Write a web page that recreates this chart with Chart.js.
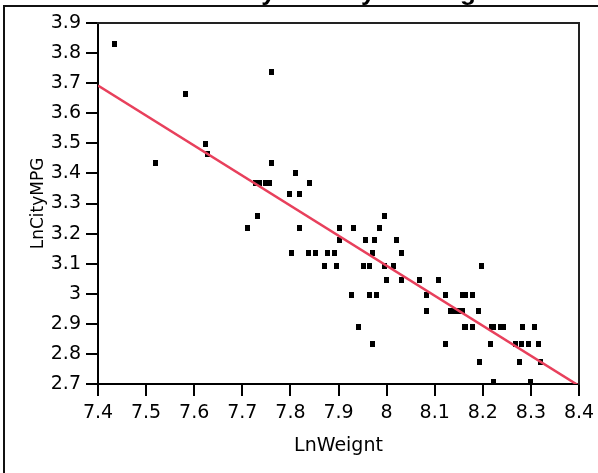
<!DOCTYPE html>
<html>
<head>
<meta charset="utf-8">
<script src="https://cdn.jsdelivr.net/npm/chart.js@4.4.1/dist/chart.umd.min.js"></script>
<style>
  html, body { margin: 0; padding: 0; background: #fff; overflow: hidden; }
  #wrap { position: relative; width: 598px; height: 473px; overflow: hidden; }
  #frame { position: absolute; left: 3px; top: 5px; width: 700px; height: 600px;
           border-left: 2px solid #111; border-top: 2px solid #111; }
  #chart { position: absolute; left: 0; top: 0; }
</style>
</head>
<body>
<div id="wrap">
  <div id="frame"></div>
  <canvas id="chart" width="598" height="473"></canvas>
</div>
<script>
// Title is cut off by the top edge in the reference, only descenders show
const chartTitle = 'Bivariate Fit of LnCityMPG By LnWeight';

// Scatter data
const lnWeight = [
    7.435, 7.761, 7.582, 7.623, 7.627, 7.519, 7.761, 7.811,
    7.728, 7.736, 7.749, 7.757, 7.840, 7.798, 7.819, 7.732, 7.995,
    7.711, 7.819, 7.903, 7.932, 7.986,
    7.903, 7.957, 7.974, 8.020,
    7.803, 7.837, 7.853, 7.878, 7.891, 7.970, 8.032,
    7.870, 7.895, 7.953, 7.965, 7.995, 8.015, 8.198,
    7.999, 8.032, 8.069, 8.107,
    7.928, 7.965, 7.978, 8.082, 8.123, 8.157, 8.165, 8.178,
    8.082, 8.132, 8.144, 8.153, 8.157, 8.191,
    7.941, 8.161, 8.165, 8.178, 8.219, 8.223, 8.236, 8.244, 8.283, 8.308,
    7.970, 8.123, 8.215, 8.269, 8.281, 8.294, 8.315,
    8.194, 8.277, 8.320,
    8.223, 8.300
];
const lnCityMPG = [
    3.829, 3.738, 3.664, 3.497, 3.466, 3.434, 3.434, 3.401,
    3.367, 3.367, 3.367, 3.367, 3.367, 3.332, 3.332, 3.258, 3.258,
    3.219, 3.219, 3.219, 3.219, 3.219,
    3.178, 3.178, 3.178, 3.178,
    3.135, 3.135, 3.135, 3.135, 3.135, 3.135, 3.135,
    3.091, 3.091, 3.091, 3.091, 3.091, 3.091, 3.091,
    3.045, 3.045, 3.045, 3.045,
    2.996, 2.996, 2.996, 2.996, 2.996, 2.996, 2.996, 2.996,
    2.944, 2.944, 2.944, 2.944, 2.944, 2.944,
    2.890, 2.890, 2.890, 2.890, 2.890, 2.890, 2.890, 2.890, 2.890, 2.890,
    2.833, 2.833, 2.833, 2.833, 2.833, 2.833, 2.833,
    2.773, 2.773, 2.773,
    2.708, 2.708
];

// Linear fit line end points
const fitX = [7.4, 8.4];
const fitY = [3.692, 2.694];

// Axis ticks
const xTicks = [7.4, 7.5, 7.6, 7.7, 7.8, 7.9, 8.0, 8.1, 8.2, 8.3, 8.4];
const xTickLabels = ['7.4', '7.5', '7.6', '7.7', '7.8', '7.9', '8', '8.1', '8.2', '8.3', '8.4'];
const yTicks = [2.7, 2.8, 2.9, 3.0, 3.1, 3.2, 3.3, 3.4, 3.5, 3.6, 3.7, 3.8, 3.9];
const yTickLabels = ['2.7', '2.8', '2.9', '3', '3.1', '3.2', '3.3', '3.4', '3.5', '3.6', '3.7', '3.8', '3.9'];

// horizontal text in the reference is drawn wide, so a wider face for it
const tickFont = { family: '"DejaVu Sans", sans-serif', size: 19 };
const vTitleFont = { family: '"DejaVu Sans", sans-serif', size: 17 };

// small upright black rectangle used as the marker
const marker = document.createElement('canvas');
marker.width = 5;
marker.height = 6;
const mctx = marker.getContext('2d');
mctx.fillStyle = '#000';
mctx.fillRect(0, 0, 5, 6);

const crispMarks = {
    id: 'crispMarks',
    beforeDatasetsDraw(chart) {
        chart.ctx.imageSmoothingEnabled = false;
    }
};

const cutTitle = {
    id: 'cutTitle',
    afterDraw(chart) {
        const ctx = chart.ctx;
        ctx.save();
        ctx.font = 'bold 26px "Liberation Sans", Arial, sans-serif';
        ctx.fillStyle = '#000';
        ctx.textAlign = 'left';
        ctx.textBaseline = 'alphabetic';
        ctx.fillText(chartTitle, 7, 0);
        ctx.restore();
    }
};

new Chart(document.getElementById('chart'), {
    type: 'scatter',
    data: {
        datasets: [
            {
                label: 'Linear Fit',
                data: fitX.map((x, i) => ({ x: x, y: fitY[i] })),
                showLine: true,
                borderColor: '#e8405c',
                borderWidth: 2.5,
                pointRadius: 0
            },
            {
                label: 'LnCityMPG',
                data: lnWeight.map((x, i) => ({ x: x, y: lnCityMPG[i] })),
                pointStyle: marker,
                pointRadius: 3,
                showLine: false
            }
        ]
    },
    options: {
        responsive: false,
        animation: false,
        devicePixelRatio: 1,
        events: [],
        layout: { padding: { left: 0, top: 23, right: 19, bottom: 0 } },
        plugins: {
            legend: { display: false },
            tooltip: { enabled: false }
        },
        scales: {
            x: {
                type: 'linear',
                position: 'bottom',
                min: 7.4,
                max: 8.4,
                afterBuildTicks: s => { s.ticks = xTicks.map(v => ({ value: v })); },
                afterFit: s => { s.height = 89; s.paddingLeft = 0; s.paddingRight = 0; },
                grid: { drawOnChartArea: false, drawTicks: true, tickLength: 12, lineWidth: 2, tickWidth: 2, tickColor: '#000' },
                border: { display: true, color: '#000', width: 2 },
                ticks: {
                    color: '#000',
                    font: tickFont,
                    padding: 6,
                    maxRotation: 0,
                    autoSkip: false,
                    callback: (v, i) => xTickLabels[i]
                },
                title: {
                    display: true,
                    text: 'LnWeignt',
                    color: '#000',
                    font: tickFont,
                    padding: { top: 0, bottom: 16 }
                }
            },
            y: {
                type: 'linear',
                position: 'left',
                min: 2.7,
                max: 3.9,
                afterBuildTicks: s => { s.ticks = yTicks.map(v => ({ value: v })); },
                afterFit: s => { s.width = 98; s.paddingTop = 0; s.paddingBottom = 0; },
                grid: { drawOnChartArea: false, drawTicks: true, tickLength: 12, lineWidth: 2, tickWidth: 2, tickColor: '#000' },
                border: { display: true, color: '#000', width: 2 },
                ticks: {
                    color: '#000',
                    font: tickFont,
                    padding: 5,
                    autoSkip: false,
                    callback: (v, i) => yTickLabels[i]
                },
                title: {
                    display: true,
                    text: 'LnCityMPG',
                    color: '#000',
                    font: vTitleFont,
                    padding: { top: 28, bottom: 0 }
                }
            },
            // top and right frame lines
            x2: {
                type: 'linear',
                position: 'top',
                min: 7.4,
                max: 8.4,
                grid: { display: false },
                ticks: { display: false },
                border: { display: true, color: '#222', width: 2 },
                afterFit: s => { s.height = 0; }
            },
            y2: {
                type: 'linear',
                position: 'right',
                min: 2.7,
                max: 3.9,
                grid: { display: false },
                ticks: { display: false },
                border: { display: true, color: '#222', width: 2 },
                afterFit: s => { s.width = 0; }
            }
        }
    },
    plugins: [crispMarks, cutTitle]
});
</script>
</body>
</html>
